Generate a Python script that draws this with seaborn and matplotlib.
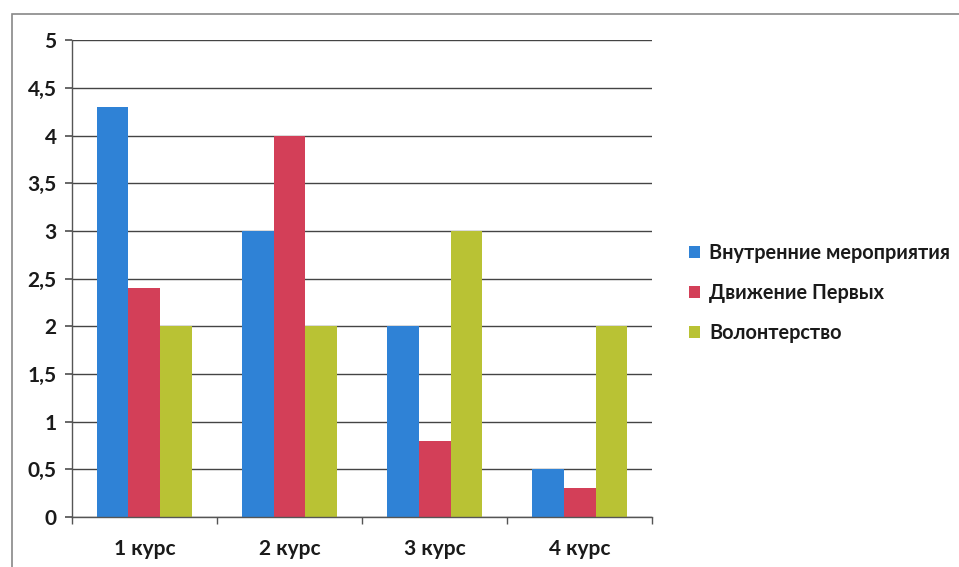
import matplotlib
matplotlib.use("Agg")
import matplotlib.pyplot as plt
import matplotlib.ticker as mticker
from matplotlib.patches import Rectangle, Patch
import seaborn as sns
import pandas as pd

categories = ["1 курс", "2 курс", "3 курс", "4 курс"]
series_names = ["Внутренние мероприятия", "Движение Первых", "Волонтерство"]
vals_internal = [4.3, 3, 2, 0.5]
vals_first = [2.4, 4, 0.8, 0.3]
vals_volunteer = [2, 2, 3, 2]
colors = ["#2f82d6", "#d33f58", "#b9c234"]

rows = []
for name, vals in zip(series_names, [vals_internal, vals_first, vals_volunteer]):
    for c, v in zip(categories, vals):
        rows.append({"cat": c, "series": name, "value": v})
df = pd.DataFrame(rows)

sns.set_theme(style="white")
plt.rcParams["font.family"] = ["Lato", "DejaVu Sans"]

fig = plt.figure(figsize=(9.59, 5.67), dpi=100)
ax = fig.add_axes([0.075, 0.088, 0.605, 0.841])

sns.barplot(data=df, x="cat", y="value", hue="series", palette=colors,
            hue_order=series_names, order=categories, width=0.66, gap=0,
            saturation=1, ax=ax, legend=False, edgecolor="none")

ax.set_ylim(0, 5)
ax.set_xlim(-0.5, 3.5)
ax.yaxis.set_major_locator(mticker.MultipleLocator(0.5))
ax.yaxis.set_major_formatter(mticker.FuncFormatter(
    lambda v, p: ("%g" % v).replace(".", ",")))
ax.grid(axis="y", color="#444444", linewidth=1.0)
ax.set_axisbelow(True)
for s in ["top", "right"]:
    ax.spines[s].set_visible(False)
for s in ["left", "bottom"]:
    ax.spines[s].set_color("#555555")
    ax.spines[s].set_linewidth(1.0)
ax.set_xlabel("")
ax.set_ylabel("")
ax.tick_params(axis="y", left=True, length=5, color="#555555", labelsize=15, pad=6,
               labelcolor="#1a1a1a")
ax.tick_params(axis="x", bottom=False, labelsize=15, pad=10, labelcolor="#1a1a1a")
ax.set_xticks([-0.5, 0.5, 1.5, 2.5, 3.5], minor=True)
ax.tick_params(axis="x", which="minor", bottom=True, length=5, color="#555555")
for lab in ax.get_yticklabels() + ax.get_xticklabels():
    lab.set_fontweight("bold")

handles = [Patch(facecolor=c, edgecolor="none", label=n) for c, n in zip(colors, series_names)]
leg = fig.legend(handles=handles, loc="upper left", bbox_to_anchor=(0.7, 0.603),
                 frameon=False, fontsize=14.3, handlelength=0.55, handleheight=0.55,
                 handletextpad=0.45, labelspacing=1.0)
for t in leg.get_texts():
    t.set_fontweight("bold")
    t.set_color("#1a1a1a")

fig.patches.append(Rectangle((0.012, -0.01), 1.0, 0.986, transform=fig.transFigure,
                             fill=False, edgecolor="#888888", linewidth=1.2))

fig.savefig("out.png", dpi=100)
